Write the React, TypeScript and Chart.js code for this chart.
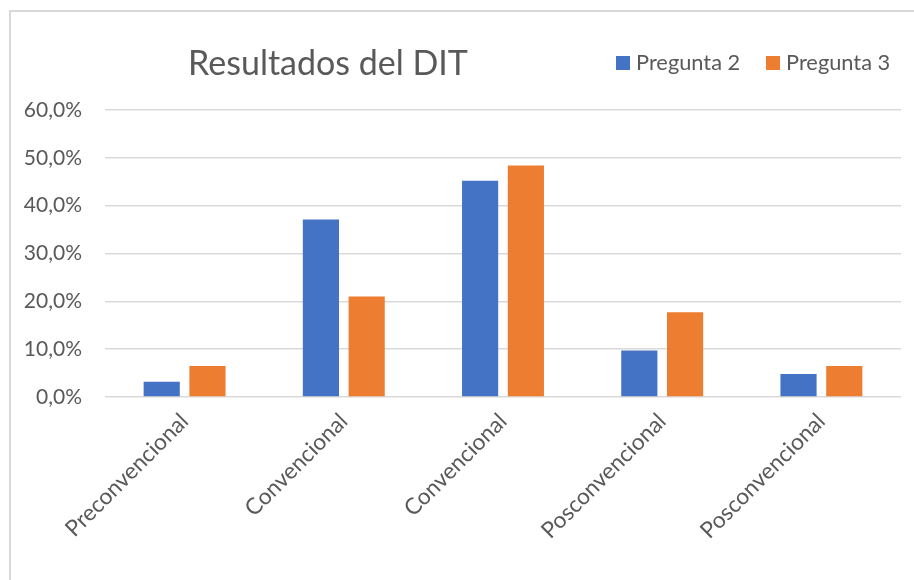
import React, { useEffect, useRef } from "react";
import { Chart, registerables } from "chart.js";

Chart.register(...registerables);

const categories = ["Preconvencional", "Convencional", "Convencional", "Posconvencional", "Posconvencional"];
const seriesNames = ["Pregunta 2", "Pregunta 3"];
const pregunta2 = [3.2, 37.1, 45.2, 9.7, 4.8];
const pregunta3 = [6.5, 21.0, 48.4, 17.7, 6.5];
const seriesColors = ["#4472C4", "#ED7D31"];
const chartTitle = "Resultados del DIT";

const FONT = "Lato, 'Open Sans', sans-serif";
const TEXT = "#595959";

const decorPlugin = {
  id: "decor",
  beforeDraw(chart: any) {
    const ctx = chart.ctx;
    ctx.save();
    ctx.fillStyle = "#ffffff";
    ctx.fillRect(0, 0, chart.width, chart.height);
    ctx.fillStyle = "#d9d9d9";
    ctx.fillRect(9, 10, 2, chart.height - 10);
    ctx.fillRect(9, 10, chart.width - 9, 2);
    ctx.restore();
  },
  afterDraw(chart: any) {
    const ctx = chart.ctx;
    ctx.save();
    ctx.fillStyle = TEXT;
    ctx.textBaseline = "middle";
    ctx.textAlign = "center";
    ctx.font = `34px ${FONT}`;
    ctx.fillText(chartTitle, 328, 64);
    ctx.font = `21.8px ${FONT}`;
    ctx.textAlign = "left";
    const starts = [616, 766];
    seriesNames.forEach((name, i) => {
      ctx.fillStyle = seriesColors[i];
      ctx.fillRect(starts[i], 56, 14, 14);
      ctx.fillStyle = TEXT;
      ctx.fillText(name, starts[i] + 20, 63);
    });
    ctx.restore();
  },
};

export default function App() {
  const ref = useRef<HTMLCanvasElement>(null);
  useEffect(() => {
    if (!ref.current) return;
    const chart = new Chart(ref.current, {
      type: "bar",
      data: {
        labels: categories,
        datasets: [
          { label: seriesNames[0], data: pregunta2, backgroundColor: seriesColors[0], categoryPercentage: 0.575, barPercentage: 0.79 },
          { label: seriesNames[1], data: pregunta3, backgroundColor: seriesColors[1], categoryPercentage: 0.575, barPercentage: 0.79 },
        ],
      },
      options: {
        responsive: false,
        animation: false,
        devicePixelRatio: 1,
        layout: { padding: { left: 0, right: 13, top: 110, bottom: 0 } },
        plugins: {
          legend: { display: false },
          title: { display: false },
          tooltip: { enabled: false },
        },
        scales: {
          x: {
            grid: { display: false, drawTicks: false },
            border: { display: false },
            ticks: {
              color: TEXT,
              font: { family: FONT, size: 22.6 },
              minRotation: 45,
              maxRotation: 45,
              padding: 11,
            },
            afterFit: (s: any) => {
              s.height = 183;
            },
          },
          y: {
            min: 0,
            max: 60,
            grid: { color: "#d9d9d9", lineWidth: 1.5, drawTicks: false },
            border: { display: false },
            ticks: {
              stepSize: 10,
              color: TEXT,
              font: { family: FONT, size: 21 },
              padding: 23,
              callback: (v: any) => Number(v).toFixed(1).replace(".", ",") + "%",
            },
            afterFit: (s: any) => {
              s.width = 105;
            },
          },
        },
      },
      plugins: [decorPlugin],
    });
    return () => chart.destroy();
  }, []);
  return (
    <div style={{ position: "absolute", left: 0, top: 0, width: 914, height: 580 }}>
      <canvas ref={ref} width={914} height={580} style={{ display: "block" }} />
    </div>
  );
}
